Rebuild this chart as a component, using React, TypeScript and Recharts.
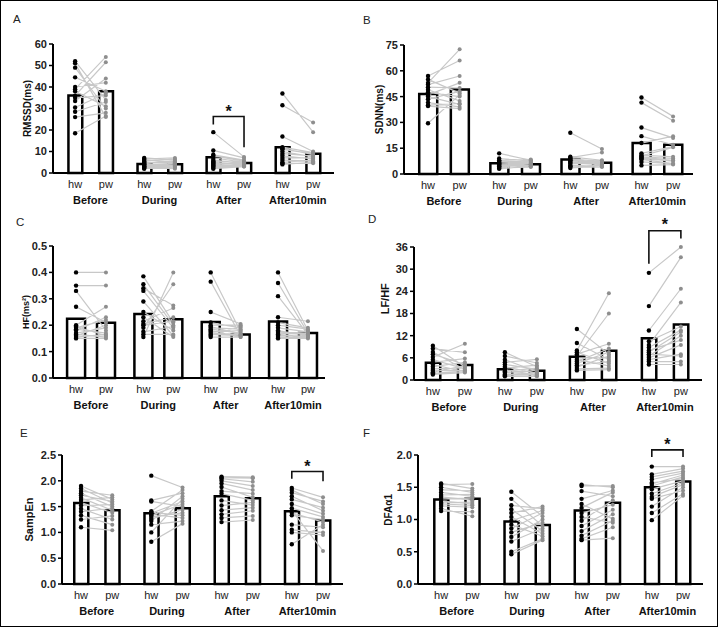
import React from 'react';
import { ComposedChart, Bar, Line, Scatter, XAxis, YAxis, ReferenceLine } from 'recharts';

const conditions = ['Before', 'During', 'After', 'After10min'];
const waterLabels = ['hw', 'pw'];

// ---- A: RMSSD ----
const rmssdMeanHw = [36, 4.2, 7.3, 12];
const rmssdMeanPw = [38, 4.1, 4.7, 9];
const rmssdHw = [
  [52, 51, 49, 44.5, 40, 39, 38, 36, 35, 33.5, 30.5, 28.5, 26, 18.5],
  [7, 6.5, 6, 5.5, 5, 4.5, 4, 4, 3.5, 3, 3, 2.5, 2.5, 2],
  [19, 10.5, 8.5, 8, 7, 6, 5.5, 5, 4.5, 4, 3.5, 3, 2.5, 2],
  [37, 31.5, 17, 12, 11.5, 11, 10, 9, 8, 7, 6, 5, 4.5, 4],
];
const rmssdPw = [
  [34, 26, 30, 38, 42, 54, 31, 51.5, 36, 44, 37, 33, 28, 26.5],
  [6, 7, 5, 6.5, 4.5, 5.5, 3.5, 4.5, 4, 3, 3.5, 2.5, 2, 3],
  [7.5, 7, 6, 5.5, 5, 4.5, 5, 4, 4.5, 3.5, 4, 3, 3.5, 3],
  [19, 23.5, 10, 9.5, 8.5, 9, 7.5, 8, 6.5, 7, 5.5, 6, 4.5, 5],
];
const rmssdTicks = [0, 10, 20, 30, 40, 50, 60];
const rmssdBracket = { cond: 2, hwLow: 22.6, top: 26.3, pwLow: 12, star: 30.3 };

// ---- B: SDNN ----
const sdnnMeanHw = [46.5, 6.2, 8.5, 18];
const sdnnMeanPw = [49.2, 5.6, 6.5, 17];
const sdnnHw = [
  [57, 55, 53, 52, 50.5, 49, 47.5, 46, 45, 43.5, 41.5, 40, 39.5, 29.5],
  [12, 9, 8, 7.5, 7, 6.5, 6, 6, 5.5, 5, 4.5, 4, 3.5, 3],
  [24, 10, 9.5, 9, 8.5, 8, 7.5, 7, 6.5, 6, 5, 4.5, 4, 3.5],
  [44.5, 41.5, 27, 22, 18, 12, 11, 10.5, 10, 9.5, 9, 8.5, 7, 5],
];
const sdnnPw = [
  [66, 47, 72.5, 57, 50, 42.5, 45, 53, 40.5, 48, 39, 41, 38, 46],
  [8, 7.5, 8.5, 7, 6.5, 6, 7, 5.5, 6, 5, 4.5, 5.5, 4, 4.5],
  [14.5, 8, 12.5, 7, 7.5, 6.5, 7, 6, 5.5, 6, 4.5, 5, 4, 4.5],
  [33.5, 31, 21, 17, 22, 16, 10, 15.5, 9, 8, 7.5, 6, 6, 5.5],
];
const sdnnTicks = [0, 15, 30, 45, 60, 75];

// ---- C: HF ----
const hfMeanHw = [0.224, 0.242, 0.212, 0.214];
const hfMeanPw = [0.209, 0.223, 0.165, 0.17];
const hfHw = [
  [0.4, 0.35, 0.33, 0.27, 0.2, 0.195, 0.19, 0.185, 0.18, 0.17, 0.165, 0.16, 0.155, 0.15],
  [0.385, 0.355, 0.34, 0.33, 0.29, 0.25, 0.23, 0.215, 0.205, 0.2, 0.19, 0.175, 0.165, 0.155],
  [0.4, 0.365, 0.25, 0.21, 0.2, 0.195, 0.19, 0.185, 0.18, 0.175, 0.17, 0.165, 0.16, 0.155],
  [0.4, 0.36, 0.31, 0.23, 0.21, 0.2, 0.19, 0.18, 0.175, 0.17, 0.165, 0.16, 0.155, 0.15],
];
const hfPw = [
  [0.4, 0.35, 0.18, 0.21, 0.27, 0.16, 0.22, 0.17, 0.23, 0.19, 0.155, 0.2, 0.165, 0.15],
  [0.21, 0.2, 0.275, 0.19, 0.16, 0.18, 0.155, 0.265, 0.23, 0.215, 0.355, 0.195, 0.165, 0.4],
  [0.175, 0.16, 0.205, 0.19, 0.2, 0.165, 0.185, 0.17, 0.155, 0.18, 0.165, 0.16, 0.195, 0.155],
  [0.18, 0.17, 0.165, 0.215, 0.19, 0.185, 0.175, 0.16, 0.17, 0.165, 0.155, 0.16, 0.155, 0.15],
];
const hfTicks = [0, 0.1, 0.2, 0.3, 0.4, 0.5];

// ---- D: LF/HF ----
const lfhfMeanHw = [4.7, 2.9, 6.3, 11.3];
const lfhfMeanPw = [4.05, 2.5, 7.9, 15];
const lfhfHw = [
  [9.3, 8.5, 7.6, 7, 6.2, 5.5, 4.8, 4.2, 3.6, 3, 2.5, 2.1, 1.8, 1.5],
  [7.5, 6.5, 5.5, 4.8, 4.2, 3.6, 3.2, 2.8, 2.4, 2.0, 1.6, 1.4, 1.2, 1.0],
  [13.8, 10, 8, 7.5, 7, 6.5, 6, 5.5, 5, 4.5, 4, 3.5, 3, 2.6],
  [29, 20, 13.4, 10.5, 9.5, 8.8, 8, 7.5, 7, 6.5, 6, 5.5, 5, 4.2],
];
const lfhfPw = [
  [3.6, 7.5, 2.8, 4.2, 9.8, 3.0, 5.8, 2.2, 4.8, 3.3, 2.6, 3.9, 2.4, 2.0],
  [3.6, 4.6, 2.3, 5.6, 2.9, 1.8, 4.0, 1.3, 3.2, 2.6, 1.5, 2.0, 1.1, 1.0],
  [7, 5.5, 23.5, 4.5, 9.8, 18, 6, 3.8, 8.5, 7.5, 5, 6.5, 3.2, 2.8],
  [36, 33.2, 24.7, 14.5, 21, 13.5, 10.8, 13, 6.5, 12, 9.5, 7, 5, 4.2],
];
const lfhfTicks = [0, 6, 12, 18, 24, 30, 36];
const lfhfBracket = { cond: 3, hwLow: 31.5, top: 40.4, pwLow: 38.3, star: 43 };

// ---- E: SampEn ----
const sampMeanHw = [1.57, 1.37, 1.7, 1.41];
const sampMeanPw = [1.43, 1.47, 1.66, 1.23];
const sampHw = [
  [1.9, 1.85, 1.8, 1.76, 1.72, 1.67, 1.63, 1.58, 1.52, 1.46, 1.4, 1.33, 1.25, 1.1],
  [2.1, 1.62, 1.6, 1.41, 1.39, 1.37, 1.35, 1.33, 1.3, 1.26, 1.22, 1.15, 1.0, 0.82],
  [2.08, 2.06, 2.04, 2.0, 1.95, 1.88, 1.8, 1.75, 1.62, 1.52, 1.43, 1.35, 1.28, 1.2],
  [1.86, 1.82, 1.77, 1.7, 1.64, 1.55, 1.47, 1.42, 1.38, 1.33, 1.15, 1.05, 1.0, 0.77],
];
const sampPw = [
  [1.64, 1.57, 1.72, 1.5, 1.6, 1.43, 1.68, 1.38, 1.54, 1.25, 1.47, 1.15, 1.32, 1.04],
  [1.87, 1.76, 1.5, 1.82, 1.33, 1.6, 1.28, 1.55, 1.38, 1.44, 1.7, 1.22, 1.65, 1.17],
  [2.07, 2.05, 1.98, 1.9, 1.82, 1.68, 1.75, 1.62, 1.53, 1.58, 1.48, 1.42, 1.32, 1.24],
  [1.68, 1.55, 1.6, 1.42, 1.48, 1.36, 1.3, 0.64, 1.2, 1.25, 1.1, 1.0, 0.95, 1.15],
];
const sampTicks = [0, 0.5, 1.0, 1.5, 2.0, 2.5];
const sampBracket = { cond: 3, hwLow: 2.04, top: 2.18, pwLow: 1.99, star: 2.34 };

// ---- F: DFA alpha1 ----
const dfaMeanHw = [1.31, 0.97, 1.14, 1.5];
const dfaMeanPw = [1.32, 0.915, 1.26, 1.59];
const dfaHw = [
  [1.56, 1.54, 1.5, 1.46, 1.42, 1.38, 1.35, 1.32, 1.29, 1.26, 1.24, 1.21, 1.17, 1.13],
  [1.43, 1.32, 1.22, 1.16, 1.1, 1.04, 0.98, 0.92, 0.86, 0.8, 0.73, 0.66, 0.5, 0.46],
  [1.54, 1.52, 1.44, 1.32, 1.24, 1.18, 1.1, 1.04, 0.98, 0.9, 0.82, 0.75, 0.7, 0.68],
  [1.82, 1.7, 1.66, 1.62, 1.57, 1.55, 1.52, 1.47, 1.4, 1.35, 1.32, 1.2, 1.1, 0.99],
];
const dfaPw = [
  [1.48, 1.55, 1.42, 1.45, 1.36, 1.39, 1.3, 1.33, 1.24, 1.27, 1.22, 1.19, 1.05, 1.12],
  [1.05, 0.9, 1.17, 0.82, 1.2, 0.78, 1.14, 0.74, 1.1, 0.95, 1.0, 0.86, 0.7, 0.68],
  [1.5, 1.52, 1.36, 1.45, 1.01, 1.42, 1.23, 0.95, 1.3, 1.15, 1.08, 0.98, 0.88, 0.71],
  [1.82, 1.79, 1.75, 1.72, 1.63, 1.69, 1.66, 1.6, 1.57, 1.54, 1.45, 1.5, 1.4, 1.37],
];
const dfaTicks = [0, 0.5, 1.0, 1.5, 2.0];
const dfaBracket = { cond: 3, hwLow: 1.97, top: 2.08, pwLow: 1.97, star: 2.22 };

// ---- layout ----
const STEP = 2.25;
const hwX = (g: number) => g * STEP;
const pwX = (g: number) => g * STEP + 1;

const panels = [
  { letter: 'A', yLabel: 'RMSSD(ms)', meanHw: rmssdMeanHw, meanPw: rmssdMeanPw, hw: rmssdHw, pw: rmssdPw, ticks: rmssdTicks, yMax: 60, decimals: 0, bracket: rmssdBracket,
    layout: { panelX: 0, panelY: 0, left: 53, right: 334, tickTopPx: 44, bottom: 173, labelX: 27, labelSize: 10, xLo: -0.72, xHi: 8.43, barSize: 17, letterX: 13, letterY: 23 } },
  { letter: 'B', yLabel: 'SDNN(ms)', meanHw: sdnnMeanHw, meanPw: sdnnMeanPw, hw: sdnnHw, pw: sdnnPw, ticks: sdnnTicks, yMax: 75, decimals: 0, bracket: null,
    layout: { panelX: 360, panelY: 0, left: 404, right: 693, tickTopPx: 45, bottom: 174, labelX: 379, labelSize: 10, xLo: -0.76, xHi: 8.38, barSize: 18, letterX: 363, letterY: 24 } },
  { letter: 'C', yLabel: 'HF(ms²)', meanHw: hfMeanHw, meanPw: hfMeanPw, hw: hfHw, pw: hfPw, ticks: hfTicks, yMax: 0.5, decimals: 1, bracket: null,
    layout: { panelX: 0, panelY: 200, left: 53, right: 325, tickTopPx: 246, bottom: 378, labelX: 26, labelSize: 9, xLo: -0.77, xHi: 8.32, barSize: 18, letterX: 16, letterY: 226 } },
  { letter: 'D', yLabel: 'LF/HF', meanHw: lfhfMeanHw, meanPw: lfhfMeanPw, hw: lfhfHw, pw: lfhfPw, ticks: lfhfTicks, yMax: 44, decimals: 0, bracket: lfhfBracket,
    layout: { panelX: 360, panelY: 200, left: 414, right: 702, tickTopPx: 247, bottom: 380, labelX: 385, labelSize: 11, xLo: -0.59, xHi: 8.41, barSize: 19, letterX: 368, letterY: 223 } },
  { letter: 'E', yLabel: 'SampEn', meanHw: sampMeanHw, meanPw: sampMeanPw, hw: sampHw, pw: sampPw, ticks: sampTicks, yMax: 2.5, decimals: 1, bracket: sampBracket,
    layout: { panelX: 0, panelY: 410, left: 62, right: 343, tickTopPx: 455, bottom: 584, labelX: 29, labelSize: 11, xLo: -0.61, xHi: 8.39, barSize: 19, letterX: 20, letterY: 437 } },
  { letter: 'F', yLabel: 'DFAα1', meanHw: dfaMeanHw, meanPw: dfaMeanPw, hw: dfaHw, pw: dfaPw, ticks: dfaTicks, yMax: 2.3, decimals: 1, bracket: dfaBracket,
    layout: { panelX: 360, panelY: 410, left: 418, right: 703, tickTopPx: 455, bottom: 584, labelX: 388, labelSize: 10, xLo: -0.74, xHi: 8.39, barSize: 19, letterX: 363, letterY: 437 } },
];

const FONT = "'Liberation Sans', Arial, sans-serif";

const HwDot = (props: any) =>
  props.cy == null ? <g /> : <circle cx={props.cx} cy={props.cy} r={2.2} fill="#000" />;
const PwDot = (props: any) =>
  props.cy == null ? <g /> : <circle cx={props.cx} cy={props.cy} r={2} fill="#8e8e8e" />;
const Star = (props: any) => (
  <text x={props.cx} y={props.cy + 9} textAnchor="middle" fontSize={16} fontWeight={700} fill="#111">*</text>
);

function Panel({ p }: { p: any }) {
  const L = p.layout;
  const topTick = p.ticks[p.ticks.length - 1];
  const plotTop = L.bottom - (L.bottom - L.tickTopPx) * (p.yMax / topTick);
  const height = L.bottom - L.panelY + 38;
  const yAxisW = L.left - L.labelX + 5;
  const margin = {
    top: plotTop - L.panelY,
    right: L.panelX + 360 - L.right,
    bottom: 2,
    left: L.left - L.panelX - yAxisW,
  };
  const barData = conditions.flatMap((c, g) => [
    { x: hwX(g), mean: p.meanHw[g] },
    { x: pwX(g), mean: p.meanPw[g] },
  ]);
  const pairData = conditions.flatMap((c, g) =>
    p.hw[g].flatMap((v: number, i: number) => [
      { x: hwX(g), v },
      { x: pwX(g), v: p.pw[g][i] },
      { x: pwX(g), v: null },
    ])
  );
  const hwPts = conditions.flatMap((c, g) => p.hw[g].map((v: number) => ({ x: hwX(g), v })));
  const pwPts = conditions.flatMap((c, g) => p.pw[g].map((v: number) => ({ x: pwX(g), v })));
  const xTicks = conditions.flatMap((c, g) => [hwX(g), pwX(g)]);
  const grpTicks = conditions.map((c, g) => (hwX(g) + pwX(g)) / 2);
  const b = p.bracket;
  const bracketData = b
    ? [
        { x: hwX(b.cond), v: b.hwLow },
        { x: hwX(b.cond), v: b.top },
        { x: pwX(b.cond), v: b.top },
        { x: pwX(b.cond), v: b.pwLow },
      ]
    : [];
  const starData = b ? [{ x: (hwX(b.cond) + pwX(b.cond)) / 2, v: b.star }] : [];

  return (
    <div style={{ position: 'absolute', left: L.panelX, top: L.panelY }}>
      <ComposedChart width={360} height={height} data={barData} margin={margin}>
        <XAxis
          dataKey="x"
          type="number"
          domain={[L.xLo, L.xHi]}
          ticks={xTicks}
          interval={0}
          tickFormatter={(v: any, i: number) => waterLabels[i % 2]}
          axisLine={{ stroke: '#000', strokeWidth: 2 }}
          tickLine={false}
          tickSize={4}
          tickMargin={3}
          height={16}
          tick={{ fontSize: 11, fill: '#222' }}
        />
        <XAxis
          xAxisId="grp"
          dataKey="x"
          type="number"
          domain={[L.xLo, L.xHi]}
          ticks={grpTicks}
          interval={0}
          tickFormatter={(v: any, i: number) => conditions[i]}
          axisLine={false}
          tickLine={false}
          tickSize={0}
          tickMargin={7}
          height={20}
          tick={{ fontSize: 11, fontWeight: 700, fill: '#111' }}
        />
        <YAxis
          type="number"
          domain={[0, p.yMax]}
          ticks={p.ticks}
          interval={0}
          width={yAxisW}
          axisLine={false}
          tickLine={{ stroke: '#000', strokeWidth: 1.5 }}
          tickSize={4}
          tickMargin={2}
          tick={{ fontSize: 11, fontWeight: 700, fill: '#222' }}
          tickFormatter={(v: any) => Number(v).toFixed(p.decimals)}
          label={{
            value: p.yLabel,
            angle: -90,
            position: 'insideLeft',
            style: { textAnchor: 'middle', fontSize: L.labelSize, fontWeight: 700, fill: '#111' },
          }}
        />
        <ReferenceLine
          segment={[{ x: L.xLo, y: 0 }, { x: L.xLo, y: topTick }]}
          stroke="#000"
          strokeWidth={2}
          ifOverflow="visible"
        />
        <Bar dataKey="mean" fill="#fff" stroke="#000" strokeWidth={2.5} barSize={L.barSize} isAnimationActive={false} />
        <Line
          data={pairData}
          dataKey="v"
          stroke="#c8c8c8"
          strokeWidth={1.2}
          dot={false}
          activeDot={false}
          connectNulls={false}
          isAnimationActive={false}
        />
        <Scatter data={hwPts} dataKey="v" shape={HwDot} isAnimationActive={false} />
        <Scatter data={pwPts} dataKey="v" shape={PwDot} isAnimationActive={false} />
        {b && (
          <Line
            data={bracketData}
            dataKey="v"
            stroke="#111"
            strokeWidth={1.6}
            dot={false}
            activeDot={false}
            isAnimationActive={false}
          />
        )}
        {b && <Scatter data={starData} dataKey="v" shape={Star} isAnimationActive={false} />}
      </ComposedChart>
    </div>
  );
}

export default function App() {
  return (
    <div
      style={{
        position: 'absolute',
        left: 0,
        top: 0,
        width: 720,
        height: 628,
        background: '#fff',
        fontFamily: FONT,
      }}
    >
      <svg width={720} height={628} style={{ position: 'absolute', left: 0, top: 0 }}>
        <rect x={0.5} y={0.5} width={717} height={626} fill="none" stroke="#000" strokeWidth={1} />
        {panels.map((p) => (
          <text key={p.letter} x={p.layout.letterX} y={p.layout.letterY} fontSize={11.5} fill="#222" fontFamily={FONT}>
            {p.letter}
          </text>
        ))}
      </svg>
      {panels.map((p) => (
        <Panel key={p.letter} p={p} />
      ))}
    </div>
  );
}
